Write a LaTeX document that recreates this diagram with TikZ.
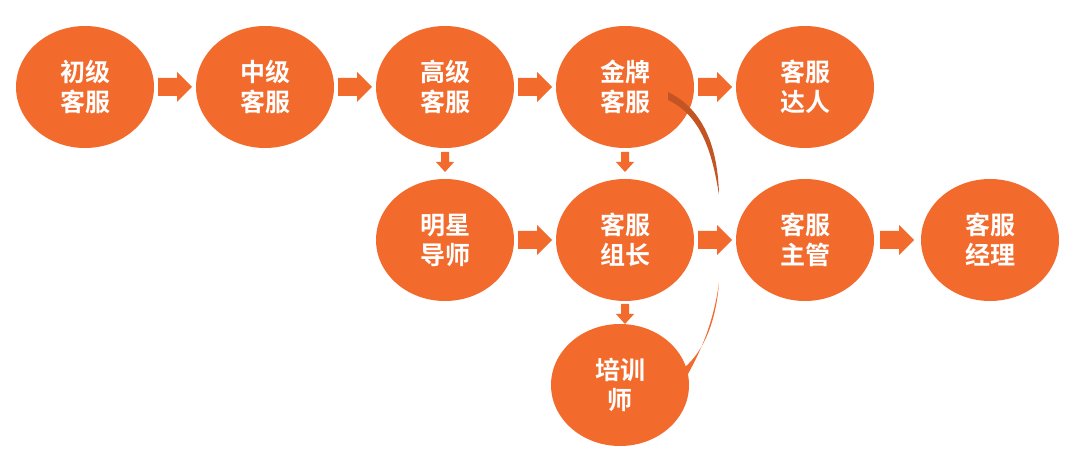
\documentclass[tikz,border=0pt]{standalone}
\usepackage{fontspec}
\newfontfamily\cjk{Noto Sans CJK SC Bold}
\usetikzlibrary{shapes.geometric}
\definecolor{org}{HTML}{F26A2C}
\begin{document}
\begin{tikzpicture}[x=1pt,y=-1pt,
  bub/.style={ellipse,fill=org,minimum width=138pt,minimum height=122pt,inner sep=0pt,text=white,font=\cjk\fontsize{25}{30}\selectfont,align=center},
  rarr/.pic={\fill[org] (-17,-9) -- (2,-9) -- (2,-15) -- (17,0) -- (2,15) -- (2,9) -- (-17,9) -- cycle;},
  darr/.pic={\fill[org] (-4,-10) -- (4,-10) -- (4,0) -- (9,0) -- (0,10) -- (-9,0) -- (-4,0) -- cycle;}]
\useasboundingbox (0,0) rectangle (1080,470);
\node[bub] (a) at (85,87) {初级\\客服};
\node[bub] (b) at (265,87) {中级\\客服};
\node[bub] (c) at (445,87) {高级\\客服};
\node[bub] (d) at (625,87) {金牌\\客服};
\node[bub] (e) at (805,87) {客服\\达人};
\node[bub] (f) at (445,240) {明星\\导师};
\node[bub] (g) at (625,240) {客服\\组长};
\node[bub] (h) at (805,240) {客服\\主管};
\node[bub] (i) at (990,240) {客服\\经理};
\node[bub] (j) at (620,385) {培训\\师};
\foreach \x/\y in {175/87,355/87,535/87,715/87,535/240,715/240,897/240}
  \pic at (\x,\y) {rarr};
\foreach \x in {445,625}
  \pic at (\x,162) {darr};
\pic at (625,314) {darr};
\fill[org!80!black] (668,92) .. controls (705,110) and (718,150) .. (719,195) .. controls (712,150) and (700,115) .. (668,100) -- cycle;
\fill[org] (684,368) .. controls (705,350) and (716,320) .. (719,283) .. controls (713,325) and (700,352) .. (688,374) -- cycle;
\end{tikzpicture}
\end{document}
